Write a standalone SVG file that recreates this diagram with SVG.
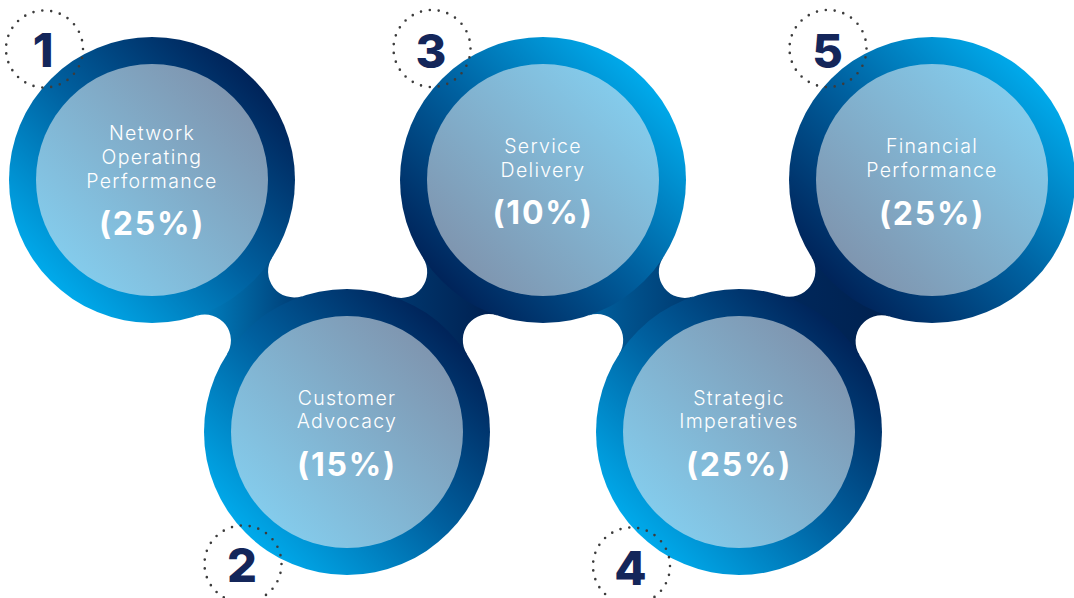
<svg xmlns="http://www.w3.org/2000/svg" width="1074" height="598" viewBox="0 0 1074 598">
  <defs>
    <linearGradient id="ringA" x1="0.15" y1="0.85" x2="0.85" y2="0.15">
      <stop offset="0" stop-color="#00a9ea"/>
      <stop offset="0.5" stop-color="#00609f"/>
      <stop offset="1" stop-color="#00245a"/>
    </linearGradient>
    <linearGradient id="ringB" x1="0.85" y1="0.15" x2="0.15" y2="0.85">
      <stop offset="0" stop-color="#00a9ea"/>
      <stop offset="0.5" stop-color="#00609f"/>
      <stop offset="1" stop-color="#00245a"/>
    </linearGradient>
    <linearGradient id="innerA" x1="0.15" y1="0.85" x2="0.85" y2="0.15">
      <stop offset="0" stop-color="#84cbeb"/>
      <stop offset="1" stop-color="#7f96b0"/>
    </linearGradient>
    <linearGradient id="innerB" x1="0.85" y1="0.15" x2="0.15" y2="0.85">
      <stop offset="0" stop-color="#84cbeb"/>
      <stop offset="1" stop-color="#7f96b0"/>
    </linearGradient>
    <linearGradient id="br12" gradientUnits="userSpaceOnUse" x1="197" y1="0" x2="302" y2="0">
      <stop offset="0" stop-color="#0082c2"/>
      <stop offset="1" stop-color="#003a72"/>
    </linearGradient>
    <linearGradient id="br23" gradientUnits="userSpaceOnUse" x1="393" y1="0" x2="497" y2="0">
      <stop offset="0" stop-color="#00386f"/>
      <stop offset="1" stop-color="#001f4f"/>
    </linearGradient>
    <linearGradient id="br34" gradientUnits="userSpaceOnUse" x1="589" y1="0" x2="693" y2="0">
      <stop offset="0" stop-color="#00609e"/>
      <stop offset="1" stop-color="#003a70"/>
    </linearGradient>
    <linearGradient id="br45" gradientUnits="userSpaceOnUse" x1="782" y1="0" x2="889" y2="0">
      <stop offset="0" stop-color="#00285c"/>
      <stop offset="1" stop-color="#00214f"/>
    </linearGradient>
  </defs>
  <style>
    .lbl { font-family: Inter, "Liberation Sans", sans-serif; font-weight: 300; font-size: 19.5px; letter-spacing: 1.3px; fill: #ffffff; text-anchor: middle; }
    .pct { font-family: Inter, "Liberation Sans", sans-serif; font-weight: 700; font-size: 32px; letter-spacing: 1.8px; fill: #ffffff; text-anchor: middle; }
    .num { font-family: Inter, "Liberation Sans", sans-serif; font-weight: 800; font-size: 47px; fill: #14265a; text-anchor: middle; }
    .dots { fill: none; stroke: #3c3c3c; stroke-width: 2.6; stroke-linecap: round; stroke-dasharray: 0 1; }
  </style>
  <rect width="1074" height="598" fill="#ffffff"/>

  <g id="connectors">
    <path fill="url(#br12)" d="M272.22,257.42 A26,26 0 0 0 302.22,296.19 L226.78,354.58 A26,26 0 0 0 196.78,315.81 Z"/>
    <path fill="url(#br23)" d="M392.84,296.55 A26,26 0 0 0 422.99,257.78 L497.16,315.45 A26,26 0 0 0 467.01,354.22 Z"/>
    <path fill="url(#br34)" d="M663.01,257.78 A26,26 0 0 0 693.16,296.55 L618.99,354.22 A26,26 0 0 0 588.84,315.45 Z"/>
    <path fill="url(#br45)" d="M781.65,295.51 A26,26 0 0 0 811.34,256.74 L889.35,316.49 A26,26 0 0 0 859.66,355.26 Z"/>
  </g>

  <g id="node1">
    <circle cx="152" cy="180" r="143" fill="url(#ringA)"/>
    <circle cx="152" cy="180" r="116" fill="url(#innerA)"/>
    <text class="lbl" x="152" y="140">Network</text>
    <text class="lbl" x="152" y="164">Operating</text>
    <text class="lbl" x="152" y="188">Performance</text>
    <text class="pct" x="152" y="235">(25%)</text>
  </g>
  <g id="node2">
    <circle cx="347" cy="432" r="143" fill="url(#ringA)"/>
    <circle cx="347" cy="432" r="116" fill="url(#innerA)"/>
    <text class="lbl" x="347" y="405">Customer</text>
    <text class="lbl" x="347" y="428">Advocacy</text>
    <text class="pct" x="347" y="476">(15%)</text>
  </g>
  <g id="node3">
    <circle cx="543" cy="180" r="143" fill="url(#ringB)"/>
    <circle cx="543" cy="180" r="116" fill="url(#innerB)"/>
    <text class="lbl" x="543" y="153">Service</text>
    <text class="lbl" x="543" y="177">Delivery</text>
    <text class="pct" x="543" y="224">(10%)</text>
  </g>
  <g id="node4">
    <circle cx="739" cy="432" r="143" fill="url(#ringA)"/>
    <circle cx="739" cy="432" r="116" fill="url(#innerA)"/>
    <text class="lbl" x="739" y="405">Strategic</text>
    <text class="lbl" x="739" y="428">Imperatives</text>
    <text class="pct" x="739" y="476">(25%)</text>
  </g>
  <g id="node5">
    <circle cx="932" cy="180" r="143" fill="url(#ringB)"/>
    <circle cx="932" cy="180" r="116" fill="url(#innerB)"/>
    <text class="lbl" x="932" y="153">Financial</text>
    <text class="lbl" x="932" y="177">Performance</text>
    <text class="pct" x="932" y="225">(25%)</text>
  </g>

  <g id="marker1">
    <circle class="dots" cx="44.5" cy="49" r="38.5" pathLength="27"/>
    <text class="num" x="43" y="67">1</text>
  </g>
  <g id="marker2">
    <circle class="dots" cx="243" cy="564" r="38.5" pathLength="27"/>
    <text class="num" x="242" y="582">2</text>
  </g>
  <g id="marker3">
    <circle class="dots" cx="432" cy="48.5" r="38.5" pathLength="27"/>
    <text class="num" x="431" y="68">3</text>
  </g>
  <g id="marker4">
    <circle class="dots" cx="631.5" cy="566" r="38.5" pathLength="27"/>
    <text class="num" x="630.5" y="585">4</text>
  </g>
  <g id="marker5">
    <circle class="dots" cx="828" cy="48.5" r="38.5" pathLength="27"/>
    <text class="num" x="827.5" y="68">5</text>
  </g>
</svg>
